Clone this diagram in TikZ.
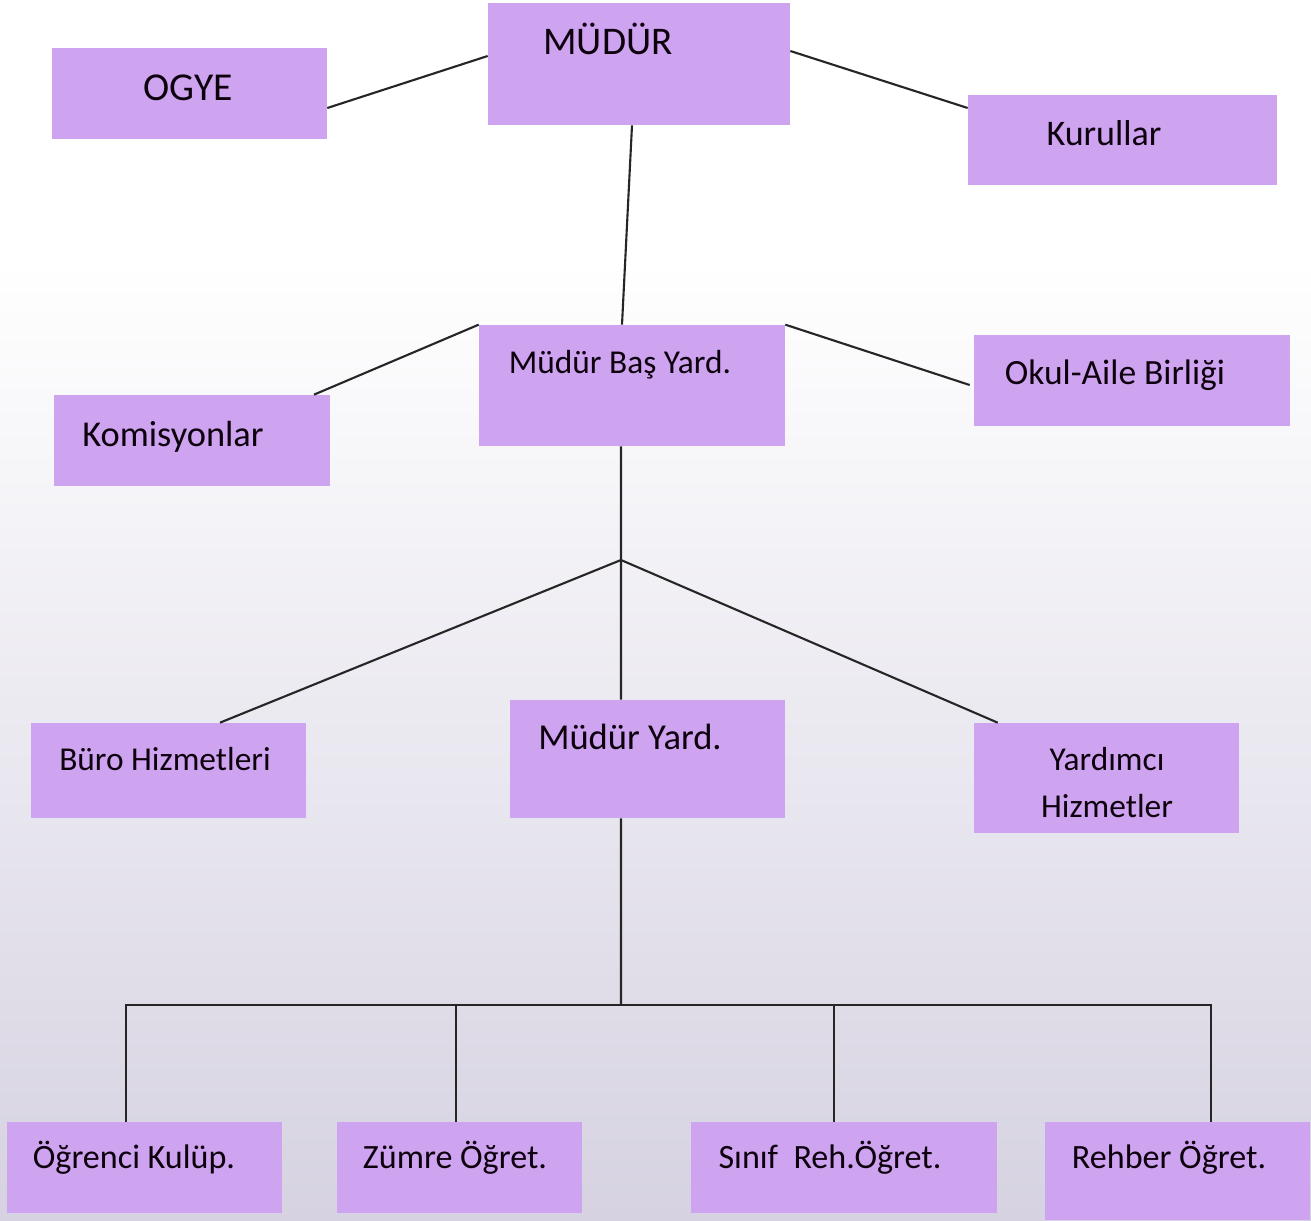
\documentclass[tikz,border=0pt]{standalone}
\usepackage{fontspec}
\setmainfont{Carlito}
\usetikzlibrary{shadings}

\definecolor{boxfill}{HTML}{CEA3F0}
\definecolor{bgbottom}{HTML}{D6D2E1}

\tikzset{
  box/.style={draw=none,fill=boxfill,shape=rectangle,inner sep=0pt},
  lbl/.style={anchor=base,inner sep=0pt,text=black!90!violet},
  conn/.style={line width=1.2pt,black!85}
}

\begin{document}
\begin{tikzpicture}[x=0.02cm,y=-0.02cm]

  \useasboundingbox (0,0) rectangle (1311,1220);
  \fill[white] (0,0) rectangle (1311,1220);
  \shade[top color=white,bottom color=bgbottom] (0,260) rectangle (1311,1220);

  \node[box,minimum width=6.04cm,minimum height=2.44cm] (mudur) at (639,64) {};
  \node[box,minimum width=5.5cm,minimum height=1.82cm] (ogye) at (189.5,93.5) {};
  \node[box,minimum width=6.18cm,minimum height=1.8cm] (kurullar) at (1122.5,140) {};

  \node[box,minimum width=6.12cm,minimum height=2.42cm] (basyard) at (632,385.5) {};
  \node[box,minimum width=5.52cm,minimum height=1.82cm] (komisyon) at (192,440.5) {};
  \node[box,minimum width=6.32cm,minimum height=1.82cm] (okulaile) at (1132,380.5) {};

  \node[box,minimum width=5.5cm,minimum height=1.9cm] (buro) at (168.5,770.5) {};
  \node[box,minimum width=5.5cm,minimum height=2.36cm] (mudyard) at (647.5,759) {};
  \node[box,minimum width=5.3cm,minimum height=2.2cm] (yardimci) at (1106.5,778) {};

  \node[box,minimum width=5.5cm,minimum height=1.82cm] (ogrenci) at (144.5,1167.5) {};
  \node[box,minimum width=4.9cm,minimum height=1.82cm] (zumre) at (459.5,1167.5) {};
  \node[box,minimum width=6.12cm,minimum height=1.82cm] (sinif) at (844,1167.5) {};
  \node[box,minimum width=5.3cm,minimum height=1.96cm] (rehber) at (1177.5,1171) {};

  \node[lbl,font=\fontsize{22.3}{26}\selectfont] (mudurT) at (608,55) {MÜDÜR};
  \node[lbl,font=\fontsize{22.5}{26}\selectfont] (ogyeT) at (188,101) {OGYE};
  \node[lbl,font=\fontsize{20.5}{24}\selectfont] (kurullarT) at (1104,145) {Kurullar};
  \node[lbl,font=\fontsize{19}{22}\selectfont] (basyardT) at (620,373) {Müdür Baş Yard.};
  \node[lbl,font=\fontsize{20.7}{24}\selectfont] (komisyonT) at (173,446) {Komisyonlar};
  \node[lbl,font=\fontsize{20.2}{23}\selectfont] (okulaileT) at (1115,384) {Okul-Aile Birliği};
  \node[lbl,font=\fontsize{19}{22}\selectfont] (buroT) at (165,770) {Büro Hizmetleri};
  \node[lbl,font=\fontsize{20.8}{24}\selectfont] (mudyardT) at (630,749) {Müdür Yard.};
  \node[lbl,font=\fontsize{19}{26.6}\selectfont,align=center] (yardimciT) at (1107,817) {Yardımcı\\Hizmetler};
  \node[lbl,font=\fontsize{19.4}{22}\selectfont] (ogrenciT) at (134,1168) {Öğrenci Kulüp.};
  \node[lbl,font=\fontsize{19.4}{22}\selectfont] (zumreT) at (455,1168) {Zümre Öğret.};
  \node[lbl,font=\fontsize{19.4}{22}\selectfont] (sinifT) at (830,1168) {Sınıf\ \ Reh.Öğret.};
  \node[lbl,font=\fontsize{19.4}{22}\selectfont] (rehberT) at (1169,1168) {Rehber Öğret.};

  \coordinate (hub) at (621,560);
  \coordinate (bus) at (621,1005);

  \draw[conn] ([yshift=-0.29cm]ogye.east) -- ([yshift=0.16cm]mudur.west);
  \draw[conn] ([yshift=0.26cm]mudur.east) -- ([yshift=0.64cm]kurullar.west);
  \draw[conn] ([xshift=-0.14cm]mudur.south) -- ([xshift=-0.2cm]basyard.north);

  \draw[conn] ([xshift=2.44cm]komisyon.north) -- (basyard.north west);
  \draw[conn] (basyard.north east) -- ([yshift=-0.09cm,xshift=-0.08cm]okulaile.west);
  \draw[conn] ([xshift=-0.22cm]basyard.south) -- (hub);

  \draw[conn] (hub) -- ([xshift=1.03cm]buro.north);
  \draw[conn] (hub) -- ([xshift=-0.53cm]mudyard.north);
  \draw[conn] (hub) -- ([xshift=0.48cm]yardimci.north west);

  \draw[conn] ([xshift=-0.53cm]mudyard.south) -- (bus);
  \draw[conn] (bus) -| ([xshift=-0.37cm]ogrenci.north);
  \draw[conn] (bus) -| ([xshift=-0.07cm]zumre.north);
  \draw[conn] (bus) -| ([xshift=-0.2cm]sinif.north);
  \draw[conn] (bus) -| ([xshift=0.67cm]rehber.north);

\end{tikzpicture}
\end{document}
